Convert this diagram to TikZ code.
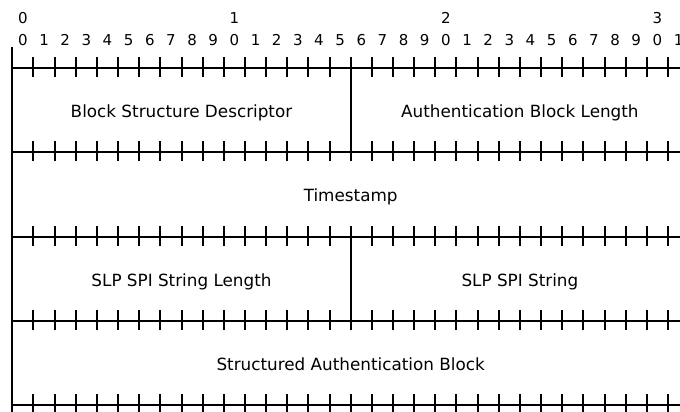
\documentclass[tikz,border=0pt]{standalone}
\usepackage{fontspec}
\setmainfont{DejaVu Sans}

\begin{document}
\begin{tikzpicture}[x=1pt,y=-1pt,line width=2pt,
  field/.style={anchor=base,font=\fontsize{16.8}{19}\selectfont},
  bitnum/.style={font=\fontsize{15}{17}\selectfont}]
\useasboundingbox (0,0) rectangle (680,412);
% bit numbers
\node[bitnum] (t0) at (22.9,18) {0};
\node[bitnum] (t1) at (234.4,18) {1};
\node[bitnum] (t2) at (445.9,18) {2};
\node[bitnum] (t3) at (657.4,18) {3};
\foreach \i in {0,...,31} {
  \pgfmathtruncatemacro{\d}{mod(\i,10)}
  \node[bitnum] (b\i) at ({22.9+21.15*\i},40) {\d};
}
% rows and ticks
\draw (12.3,47) -- (12.3,412);
\foreach \y in {68,152,237,321,405} {
  \draw (12.3,\y) -- (681,\y);
  \foreach \i in {1,...,31}
    \draw ({12.3+21.15*\i},{\y-11}) -- ++(0,20);
}
\draw (350.7,68) -- (350.7,152);
\draw (350.7,237) -- (350.7,321);
% fields
\node[field] (bsd) at (181.5,117.5) {Block Structure Descriptor};
\node[field] (abl) at (519.9,117.5) {Authentication Block Length};
\node[field] (ts) at (350.7,201.5) {Timestamp};
\node[field] (spilen) at (181.5,286.5) {SLP SPI String Length};
\node[field] (spi) at (519.9,286.5) {SLP SPI String};
\node[field] (sab) at (350.7,370.5) {Structured Authentication Block};
\end{tikzpicture}
\end{document}
